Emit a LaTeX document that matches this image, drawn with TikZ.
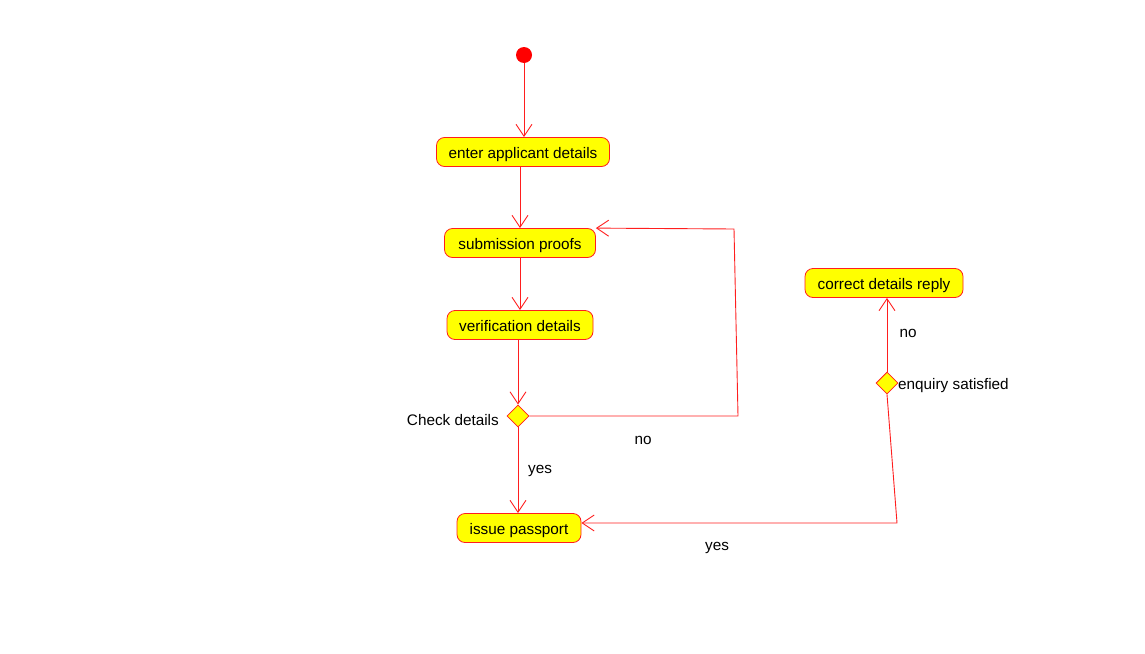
\documentclass[tikz,border=0pt]{standalone}
\usepackage{fontspec}
\setmainfont{Liberation Sans}
\usetikzlibrary{arrows.meta,shapes.geometric}
\definecolor{lred}{RGB}{255,30,30}
\definecolor{byellow}{RGB}{255,255,0}
\begin{document}
\begin{tikzpicture}[x=1pt,y=-1pt, font=\fontsize{15.3}{18}\selectfont,
 act/.style={draw=lred, fill=byellow, rounded corners=8pt, minimum height=29pt, inner xsep=0pt, text height=14pt, text depth=2pt, line width=0.8pt},
 dec/.style={draw=lred, fill=byellow, diamond, minimum width=22pt, minimum height=22pt, inner sep=0pt, line width=0.8pt},
 flow/.style={draw=lred, line width=0.9pt, -{Straight Barb[length=12pt,width=16pt,line width=0.9pt]}},
 lbl/.style={inner sep=0pt, yshift=-1.5pt}]
\useasboundingbox (0,0) rectangle (1145,653);
\node[circle, fill=red, minimum size=16pt, inner sep=0pt] (start) at (524,55) {};
\node[act, minimum width=173pt] (enter) at (523,152) {enter applicant details};
\node[act, minimum width=151pt] (sub) at (520,243) {submission proofs};
\node[act, minimum width=146pt] (ver) at (520,325) {verification details};
\node[dec] (chk) at (518,416) {};
\node[lbl, anchor=east] (chkl) at (499,419) {Check details};
\node[act, minimum width=124pt] (iss) at (519,528) {issue passport};
\node[act, minimum width=158pt] (cor) at (884,283) {correct details reply};
\node[dec] (enq) at (887,383) {};
\node[lbl, anchor=west] (enql) at (898,384) {enquiry satisfied};
\node[lbl] (no1) at (643,439) {no};
\node[lbl] (yes1) at (540,469) {yes};
\node[lbl] (no2) at (908,332) {no};
\node[lbl] (yes2) at (717,546) {yes};
\coordinate (c1) at (738,416);
\coordinate (c2) at (734,229);
\coordinate (c3) at (897,523);
\draw[flow] (start) -- (start |- enter.north);
\draw[flow] (enter.south -| sub) -- (sub.north);
\draw[flow] (sub) -- (ver);
\draw[flow] (ver.south -| chk) -- (chk.north);
\draw[flow] (chk.south) -- (chk.south |- iss.north);
\draw[flow] (chk.east) -- (c1) -- (c2) -- (sub.north east);
\draw[flow] (enq.north) -- (enq.north |- cor.south);
\draw[flow] (enq.south) -- (c3) -- (c3 -| iss.east);
\end{tikzpicture}
\end{document}
